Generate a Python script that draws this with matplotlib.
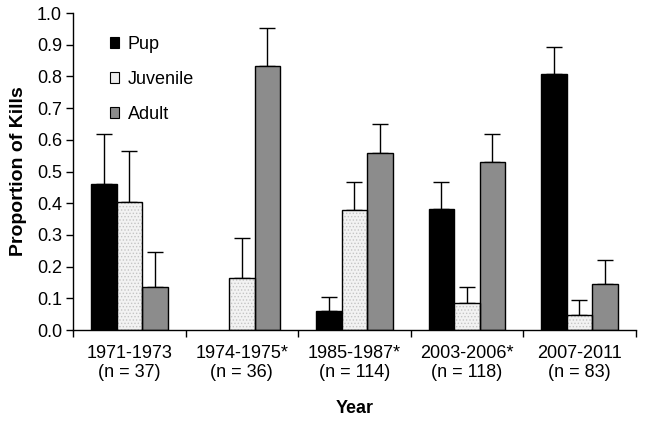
import numpy as np
import matplotlib as mpl
import matplotlib.pyplot as plt

plt.rcParams['font.family'] = ['Liberation Sans', 'DejaVu Sans']
plt.rcParams['hatch.linewidth'] = 0.6
FONTSIZE = 13

# data
periods = ['1971-1973\n(n = 37)', '1974-1975*\n(n = 36)', '1985-1987*\n(n = 114)',
           '2003-2006*\n(n = 118)', '2007-2011\n(n = 83)']
pup = [0.46, 0.0, 0.06, 0.383, 0.807]
pup_err = [0.16, 0.0, 0.045, 0.084, 0.086]
juvenile = [0.405, 0.165, 0.378, 0.085, 0.048]
juvenile_err = [0.16, 0.125, 0.089, 0.05, 0.047]
adult = [0.135, 0.833, 0.56, 0.53, 0.145]
adult_err = [0.11, 0.12, 0.09, 0.087, 0.075]

fig = plt.figure(figsize=(6.52, 4.22), dpi=100)
ax1 = fig.add_axes([0.112, 0.218, 0.863, 0.751])

x = np.arange(len(periods))
width = 0.227
offsets = [-width, 0, width]
err_kw = dict(ecolor='black', elinewidth=1.0, capsize=5.8, capthick=1.0)

# zero-height bars are not drawn at all
pup_lw = [1.0 if v > 0 else 0 for v in pup]
ax1.bar(x + offsets[0], pup, width, color='black', edgecolor='black',
        linewidth=pup_lw, label='Pup', zorder=2)
has_err = np.array(pup) > 0
ax1.errorbar((x + offsets[0])[has_err], np.array(pup)[has_err],
             yerr=[np.zeros(has_err.sum()), np.array(pup_err)[has_err]],
             fmt='none', zorder=1, **err_kw)

# juvenile: dotted light grey fill drawn under a plain outline
ax1.bar(x + offsets[1], juvenile, width, color='#f2f2f2', edgecolor='#c4c4c4',
        hatch='.....', linewidth=0, zorder=2)
ax1.bar(x + offsets[1], juvenile, width, color='none', edgecolor='black',
        linewidth=1.0, zorder=3)
ax1.errorbar(x + offsets[1], juvenile, yerr=[np.zeros(5), juvenile_err], fmt='none', zorder=1, **err_kw)

ax1.bar(x + offsets[2], adult, width, color='#8c8c8c', edgecolor='black',
        linewidth=1.0, label='Adult', zorder=2)
ax1.errorbar(x + offsets[2], adult, yerr=[np.zeros(5), adult_err], fmt='none', zorder=1, **err_kw)

# legend with proxy handles
handles = [mpl.patches.Patch(facecolor='black', edgecolor='black', linewidth=0.8),
           mpl.patches.Patch(facecolor='#ececec', edgecolor='black', linewidth=0.8),
           mpl.patches.Patch(facecolor='#8c8c8c', edgecolor='black', linewidth=0.8)]
ax1.legend(handles, ['Pup', 'Juvenile', 'Adult'], loc='upper left',
           bbox_to_anchor=(0.036, 0.98), frameon=False, fontsize=FONTSIZE,
           handlelength=0.55, handleheight=0.55, handletextpad=0.45, labelspacing=1.0)

# Format Figure
ax1.set_xlim(-0.5, len(periods) - 0.5)
ax1.set_ylim(0, 1.0)
ax1.set_yticks(np.arange(0, 1.01, 0.1))
ax1.set_yticklabels(['%.1f' % v for v in np.arange(0, 1.01, 0.1)], fontsize=FONTSIZE)
ax1.set_xticks(x)
ax1.set_xticklabels(periods, fontsize=FONTSIZE, linespacing=1.1)
ax1.set_xticks(np.arange(-0.5, len(periods)), minor=True)
ax1.tick_params(axis='x', which='major', length=0, pad=11)
ax1.tick_params(axis='x', which='minor', length=5, width=1.0, direction='out')
ax1.tick_params(axis='y', length=5, width=1.0, direction='out', pad=3)
for side in ['top', 'right']:
    ax1.spines[side].set_visible(False)
for side in ['left', 'bottom']:
    ax1.spines[side].set_linewidth(1.0)

ax1.set_ylabel('Proportion of Kills', fontsize=14, fontweight='bold', labelpad=7)
ax1.set_xlabel('Year', fontsize=13, fontweight='bold', labelpad=14)

fig.savefig('out.png', dpi=100)
